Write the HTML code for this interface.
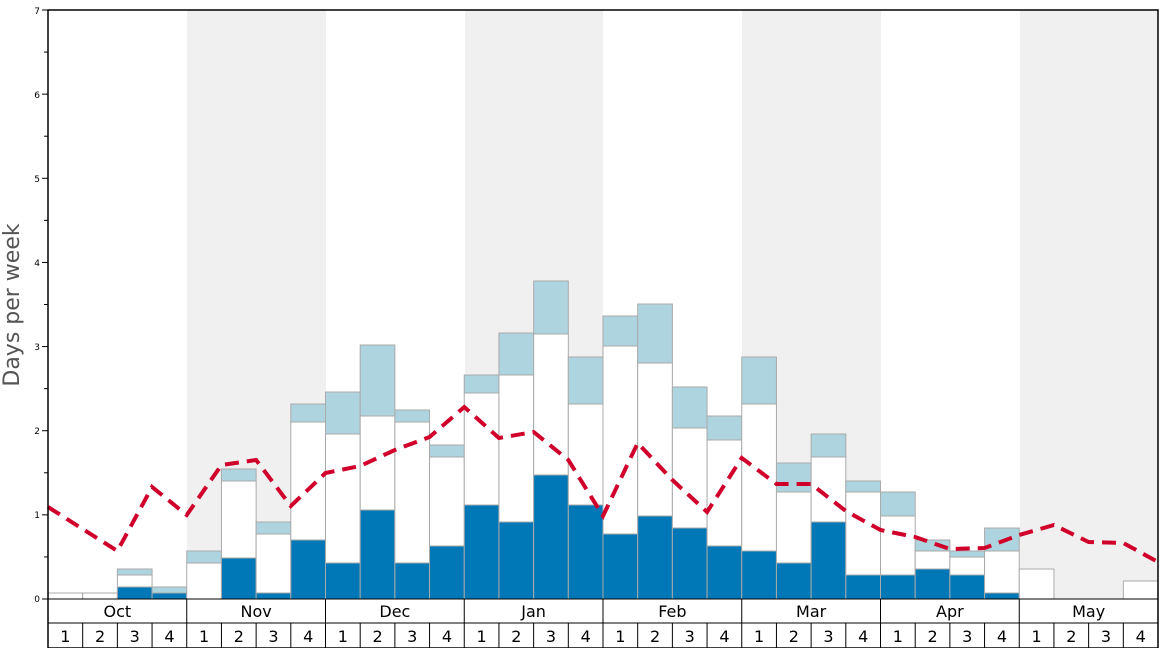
<!DOCTYPE html>
<html><head><meta charset="utf-8"><style>body{margin:0;background:#fff}svg{display:block}</style></head><body>
<svg width="1168" height="648" xmlns="http://www.w3.org/2000/svg" font-family="DejaVu Sans, Liberation Sans, sans-serif">
<rect width="1168" height="648" fill="#fff"/>
<g fill="#f0f0f0">
<rect x="187" y="10" width="139" height="589"/>
<rect x="465" y="10" width="138" height="589"/>
<rect x="742" y="10" width="139" height="589"/>
<rect x="1020" y="10" width="138" height="589"/>
</g>
<g id="bars" stroke="#aaa" stroke-width="1"></g>
<polyline id="line" fill="none" stroke="#d0002a" stroke-width="4" stroke-dasharray="14,8" points=""/>
<rect x="48" y="10" width="1110" height="638" fill="none" stroke="#000" stroke-width="1.5"/>
<line x1="48" y1="599" x2="1158" y2="599" stroke="#000" stroke-width="1"/>
<line x1="48" y1="623" x2="1158" y2="623" stroke="#000" stroke-width="1"/>
<g id="axes" stroke="#000" stroke-width="1"></g>
<g id="txt" font-size="16" text-anchor="middle" fill="#000"></g>
<g font-size="9" text-anchor="end" fill="#000">
<text x="40" y="602">0</text><text x="40" y="518">1</text><text x="40" y="434">2</text><text x="40" y="350">3</text><text x="40" y="266">4</text><text x="40" y="182">5</text><text x="40" y="98">6</text><text x="40" y="14">7</text>
</g>
<text x="19" y="305" font-size="22" fill="#555" text-anchor="middle" transform="rotate(-90 19 305)">Days per week</text>
</svg>
<script>
const ns="http://www.w3.org/2000/svg",W=1110/32;
const d=[[599,593,593],[599,593,593],[587,575,569],[593,593,587],[599,563,551],[558,481,469],[593,534,522],[540,422,404],
[563,434,392],[510,416,345],[563,422,410],[546,457,445],[505,393,375],[522,375,333],[475,334,281],[505,404,357],
[534,346,316],[516,363,304],[528,428,387],[546,440,416],[551,404,357],[563,492,463],[522,457,434],[575,492,481],
[575,516,492],[569,551,540],[575,557,551],[593,551,528],[599,569,569],[599,599,599],[599,599,599],[599,581,581]];
const g=document.getElementById('bars');
function r(x,y1,y2,f){if(y2-y1<=0)return;const e=document.createElementNS(ns,'rect');e.setAttribute('x',x);e.setAttribute('y',y1);e.setAttribute('width',W);e.setAttribute('height',y2-y1);e.setAttribute('fill',f);g.appendChild(e);}
d.forEach((v,i)=>{const x=48+i*W;r(x,v[2],v[1],'#aed4e0');r(x,v[1],v[0],'#fff');r(x,v[0],599,'#0077b6');});
const ly=[507,529,551,487,515,465,460,506,473,466,450,437,407,438,432,460,516,443,480,512,458,484,484,511,530,537,549,548,535,525,542,543,562];
document.getElementById('line').setAttribute('points',ly.map((y,i)=>(48+i*W)+','+y).join(' '));
const a=document.getElementById('axes'),t=document.getElementById('txt');
function ln(x1,y1,x2,y2){const e=document.createElementNS(ns,'line');e.setAttribute('x1',x1);e.setAttribute('y1',y1);e.setAttribute('x2',x2);e.setAttribute('y2',y2);a.appendChild(e);}
function tx(x,y,s){const e=document.createElementNS(ns,'text');e.setAttribute('x',x);e.setAttribute('y',y);e.textContent=s;t.appendChild(e);}
for(let k=0;k<=14;k++){const y=599-k*589/14;ln(k%2?44:42,y,48,y);}
const M=['Oct','Nov','Dec','Jan','Feb','Mar','Apr','May'];
for(let i=0;i<32;i++){const x=48+i*W;if(i>0)ln(x,i%4?623:599,x,648);tx(x+W/2,642,(i%4)+1);}
M.forEach((m,j)=>tx(48+(j*4+2)*W,617,m));
</script>
</body></html>
